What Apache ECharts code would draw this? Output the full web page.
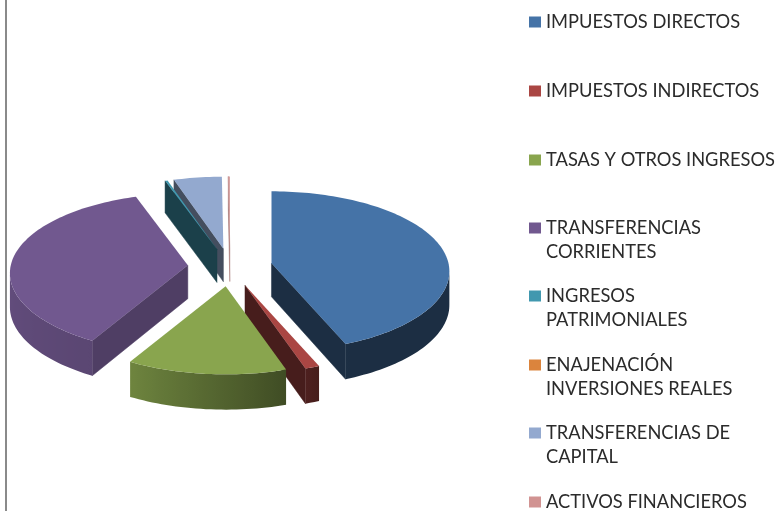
<!DOCTYPE html>
<html>
<head>
<meta charset="utf-8">
<style>html,body{margin:0;padding:0;background:#fff}#c{width:779px;height:511px}</style>
<script src="https://cdn.jsdelivr.net/npm/echarts@6/dist/echarts.min.js"></script>
</head>
<body>
<div id="c"></div>
<script>
const categories = ['IMPUESTOS DIRECTOS','IMPUESTOS INDIRECTOS','TASAS Y OTROS INGRESOS','TRANSFERENCIAS CORRIENTES','INGRESOS PATRIMONIALES','ENAJENACIÓN INVERSIONES REALES','TRANSFERENCIAS DE CAPITAL','ACTIVOS FINANCIEROS'];
const legendLabels = ['IMPUESTOS DIRECTOS','IMPUESTOS INDIRECTOS','TASAS Y OTROS INGRESOS','TRANSFERENCIAS\nCORRIENTES','INGRESOS\nPATRIMONIALES','ENAJENACIÓN\nINVERSIONES REALES','TRANSFERENCIAS DE\nCAPITAL','ACTIVOS FINANCIEROS'];
const values = [43.8, 1.2, 13.2, 36.6, 0.25, 0.0, 4.8, 0.15];
const colors = ['#4573a7','#aa4643','#89a54e','#71588f','#4198af','#db843d','#93a9cf','#d19392'];
const radialShade = [0.40, 0.42, 0.5, 0.70, 0.42, 0.5, 0.46, 0.8];
const legendY = [22, 91, 160, 228, 296, 365, 433, 502];

// pseudo-3D projection of the pie disc
const CX = 230, CY = 267, AX = 177, AY = 79.2, K = 0.1, EXPLODE = 0.24;
const total = values.reduce((a, b) => a + b, 0);
const starts = [];
values.reduce((acc, v, i) => { starts[i] = acc; return acc + v; }, 0);

function local(u, v) {
  const w = 1 - K * v;
  return [AX * u / w, AY * v / w];
}
function lower(p, V) {
  return [p[0], p[1] + 33.5 / (1 - 0.05 * V)];
}
function shadeColor(hex, f) {
  const n = parseInt(hex.slice(1), 16);
  const ch = s => Math.round(((n >> s) & 255) * f);
  return 'rgb(' + ch(16) + ',' + ch(8) + ',' + ch(0) + ')';
}
function outerShade(deg) {
  const pts = [[0, .4], [157, .4], [163, .47], [209, .8], [270, .88], [360, .88]];
  for (let i = 1; i < pts.length; i++) {
    if (deg <= pts[i][0]) {
      const t = (deg - pts[i - 1][0]) / (pts[i][0] - pts[i - 1][0] || 1);
      return pts[i - 1][1] + t * (pts[i][1] - pts[i - 1][1]);
    }
  }
  return .88;
}
function renderSlice(i) {
  return function () {
    const v = values[i];
    if (!v) return { type: 'group', children: [] };
    const a0 = starts[i] / total * 360, a1 = (starts[i] + v) / total * 360;
    const mid = (a0 + a1) / 2 * Math.PI / 180;
    const ex = EXPLODE * Math.sin(mid), ey = -EXPLODE * Math.cos(mid);
    const o = local(ex, ey);
    const ox = CX + o[0], oy = CY + o[1];
    const steps = Math.max(2, Math.ceil((a1 - a0) / 1.5));
    const apex = { p: [ox, oy], V: ey };
    const arc = [];
    for (let s = 0; s <= steps; s++) {
      const deg = a0 + (a1 - a0) * s / steps, t = deg * Math.PI / 180;
      const l = local(Math.sin(t), -Math.cos(t));
      arc.push({ p: [ox + l[0], oy + l[1]], V: -Math.cos(t), deg: deg });
    }
    const children = [];
    const rc = shadeColor(colors[i], radialShade[i]);
    const radial = (m, n) => {
      if (n.p[0] >= m.p[0]) return;
      children.push({ type: 'polygon', shape: { points: [m.p, n.p, lower(n.p, n.V), lower(m.p, m.V)] },
        style: { fill: rc, stroke: rc, lineWidth: 0.5 } });
    };
    radial(apex, arc[0]);
    radial(arc[arc.length - 1], apex);
    // outer wall: the leftward-running part of the arc, one polygon with a horizontal gradient
    const vis = [];
    for (let s = 0; s < steps; s++) {
      if (arc[s + 1].p[0] < arc[s].p[0]) {
        if (!vis.length) vis.push(arc[s]);
        vis.push(arc[s + 1]);
      }
    }
    if (vis.length > 1) {
      const xR = vis[0].p[0], xL = vis[vis.length - 1].p[0];
      const stops = vis.map(a => ({ offset: (xR - a.p[0]) / (xR - xL),
        color: shadeColor(colors[i], outerShade(a.deg)) }));
      const pts = vis.map(a => a.p).concat(vis.slice().reverse().map(a => lower(a.p, a.V)));
      children.push({ type: 'polygon', shape: { points: pts },
        style: { fill: { type: 'linear', global: true, x: xR, y: 0, x2: xL, y2: 0, colorStops: stops } } });
    }
    children.push({ type: 'polygon', shape: { points: [apex.p].concat(arc.map(a => a.p)) },
      style: { fill: colors[i] } });
    return { type: 'group', children: children };
  };
}

const font = { fontFamily: 'Lato', fontSize: 18.3, color: '#2b2b2b', lineHeight: 24 };
const chart = echarts.init(document.getElementById('c'), null, { renderer: 'canvas' });
chart.setOption({
  animation: false,
  backgroundColor: '#fff',
  graphic: [{ type: 'rect', shape: { x: 5, y: 0, width: 2, height: 511 }, style: { fill: '#8a8a8a' } }],
  legend: categories.map((name, i) => {
    const twoLines = legendLabels[i].indexOf('\n') >= 0;
    return {
      left: 529, top: legendY[i] - 12, padding: 0, selectedMode: false,
      itemWidth: 12, itemHeight: twoLines ? 35 : 11,
      icon: twoLines ? 'path://M0 0H12V11H0ZM0 35V35' : 'rect',
      itemStyle: { color: colors[i], borderWidth: 0 },
      data: [name],
      formatter: () => legendLabels[i],
      textStyle: font
    };
  }),
  series: categories.map((name, i) => ({
    type: 'custom', name: name, coordinateSystem: 'none',
    z: i === 4 ? 3 : 2,
    itemStyle: { color: colors[i] },
    data: [{ name: name, value: values[i] }],
    silent: true,
    renderItem: renderSlice(i)
  }))
});
</script>
</body>
</html>
